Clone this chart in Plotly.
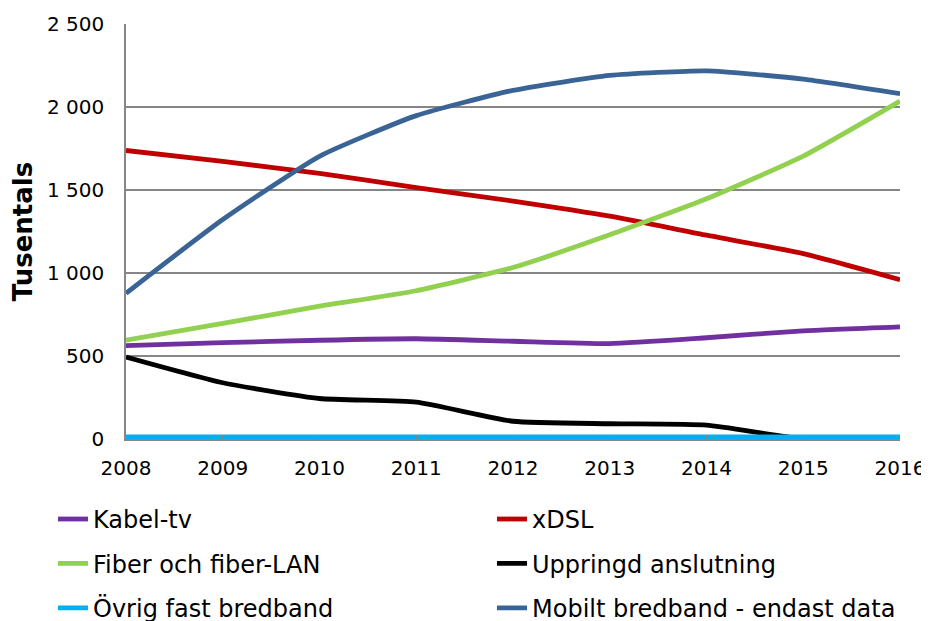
import plotly.graph_objects as go

years = [2008, 2009, 2010, 2011, 2012, 2013, 2014, 2015, 2016]

kabel_tv = [563, 580, 595, 604, 589, 575, 610, 652, 676]
xdsl = [1738, 1672, 1600, 1515, 1433, 1342, 1228, 1117, 960]
fiber = [595, 696, 800, 893, 1033, 1230, 1447, 1704, 2035]
uppringd = [494, 339, 244, 222, 107, 92, 83, 2, 0]
ovrig = [13, 13, 13, 13, 13, 13, 13, 13, 13]
mobilt = [878, 1322, 1703, 1948, 2100, 2190, 2218, 2168, 2080]

series_names = ["Kabel-tv", "xDSL", "Fiber och fiber-LAN", "Uppringd anslutning",
                "Övrig fast bredband", "Mobilt bredband - endast data"]
series_values = [kabel_tv, xdsl, fiber, uppringd, ovrig, mobilt]
series_colors = ["#7030A0", "#C00000", "#92D050", "#000000", "#00B0F0", "#3A6496"]
series_legend = ["legend", "legend", "legend2", "legend2", "legend3", "legend3"]

y_ticks = [0, 500, 1000, 1500, 2000, 2500]

FONT = "Verdana, DejaVu Sans, sans-serif"

fig = go.Figure()
for name, vals, col, leg in zip(series_names, series_values, series_colors, series_legend):
    fig.add_trace(go.Scatter(
        x=years, y=vals, name=name, mode="lines",
        line=dict(color=col, width=4.8, shape="spline", smoothing=0.5),
        legend=leg,
    ))

leg_common = dict(orientation="h", xanchor="left", yanchor="middle",
                  entrywidth=394, entrywidthmode="pixels",
                  font=dict(family=FONT, size=24, color="#000000"),
                  bgcolor="rgba(0,0,0,0)", itemwidth=30, traceorder="normal")

# the page body adds an 8px offset; compensate
OFF = 8
W, Hfig = 929, 621
plot_left = 126 - OFF
plot_w = 774
plot_top = 24 - OFF
plot_bottom = 439.5 - OFF
H = plot_bottom - plot_top

def py(ypx):
    return (plot_bottom - (ypx - OFF)) / H

lx = (45 - plot_left) / plot_w  # legend left edge

fig.update_layout(
    width=W, height=Hfig,
    margin=dict(l=plot_left, r=W - plot_left - plot_w, t=plot_top, b=Hfig - plot_bottom,
                autoexpand=False),
    paper_bgcolor="white", plot_bgcolor="white",
    font=dict(family=FONT, size=20, color="#000000"),
    separators=", ",
    legend=dict(x=lx, y=py(520), **leg_common),
    legend2=dict(x=lx, y=py(564.5), **leg_common),
    legend3=dict(x=lx, y=py(609), **leg_common),
    xaxis=dict(
        range=[2008, 2016], tickmode="array", tickvals=years,
        ticktext=[str(y) for y in years],
        showgrid=False, showline=True, linecolor="#868686", linewidth=1.5,
        ticks="inside", ticklen=4, tickcolor="#868686",
        tickfont=dict(family=FONT, size=20), zeroline=False,
        ticklabelstandoff=10, ticklabeloverflow="allow",
    ),
    yaxis=dict(
        range=[0, 2500], tickmode="array", tickvals=y_ticks,
        tickformat=",d",
        showgrid=True, gridcolor="#868686", gridwidth=1.5,
        showline=True, linecolor="#868686", linewidth=1.5,
        ticks="", tickfont=dict(family=FONT, size=20), zeroline=False,
        ticklabelstandoff=16,
        title=dict(text="<b>Tusentals</b>", font=dict(family=FONT, size=26), standoff=7),
    ),
)

fig.write_html("out.html")
